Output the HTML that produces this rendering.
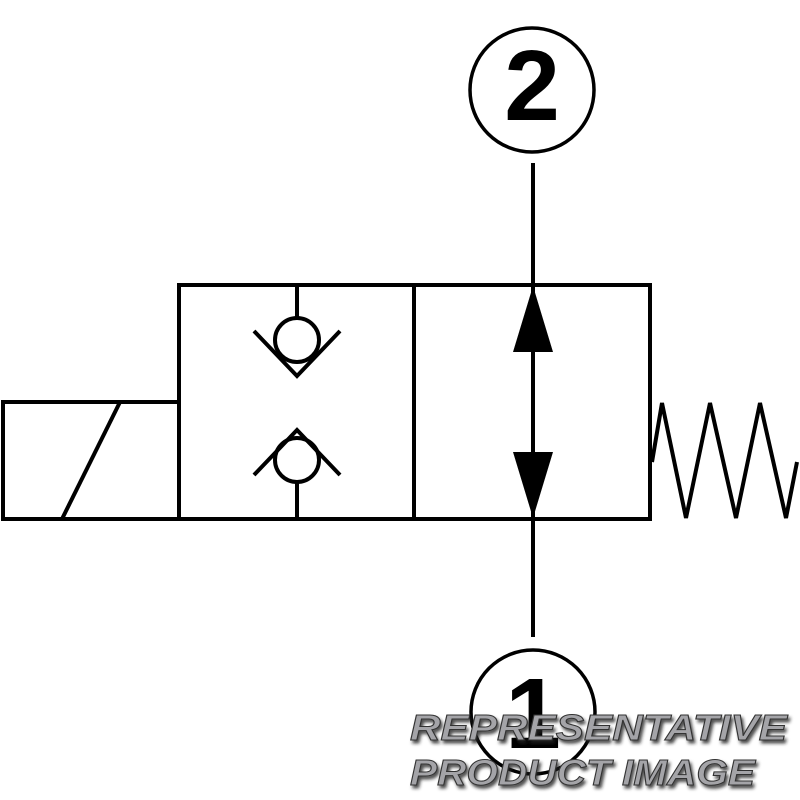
<!DOCTYPE html>
<html><head><style>body{margin:0;background:#fff}svg{display:block}</style></head>
<body>
<svg width="800" height="800" viewBox="0 0 800 800" xmlns="http://www.w3.org/2000/svg">
<defs><filter id="sh" x="-10%" y="-30%" width="120%" height="160%"><feDropShadow dx="2" dy="3" stdDeviation="1.5" flood-color="#222" flood-opacity="0.8"/></filter></defs>
<g fill="none" stroke="#000" stroke-width="4">
<rect x="179" y="285" width="471" height="234"/>
<line x1="414" y1="285" x2="414" y2="519"/>
<rect x="3" y="402" width="176" height="117"/>
<line x1="62" y1="519" x2="120" y2="402"/>
<polyline points="652,462 662,403 686,518 710,403 736,518 760,403 786,518 797,462"/>
<line x1="297" y1="285" x2="297" y2="318"/>
<circle cx="297" cy="340" r="22"/>
<polyline points="254,331 297,376 340,331"/>
<line x1="297" y1="482" x2="297" y2="519"/>
<circle cx="297" cy="460" r="22"/>
<polyline points="254,475 297,430 340,475"/>
<line x1="533" y1="163" x2="533" y2="637"/>
<circle cx="532" cy="90" r="62" stroke-width="3.5"/>
<circle cx="533" cy="712" r="62" stroke-width="3.5"/>
</g>
<polygon points="533,286 513,352 553,352" fill="#000"/>
<polygon points="533,518 513,452 553,452" fill="#000"/>
<text x="532" y="120" text-anchor="middle" font-family="Liberation Sans, sans-serif" font-weight="bold" font-size="100">2</text>
<text x="533" y="748" text-anchor="middle" font-family="Liberation Sans, sans-serif" font-weight="bold" font-size="100">1</text>
<g font-family="Liberation Sans, sans-serif" font-weight="bold" font-style="italic" font-size="36" fill="#a4a4a8" stroke="#333" stroke-width="1" filter="url(#sh)">
<text x="410" y="740" textLength="377" lengthAdjust="spacingAndGlyphs">REPRESENTATIVE</text>
<text x="410" y="785" textLength="345" lengthAdjust="spacingAndGlyphs">PRODUCT  IMAGE</text>
</g>
</svg>
</body></html>
